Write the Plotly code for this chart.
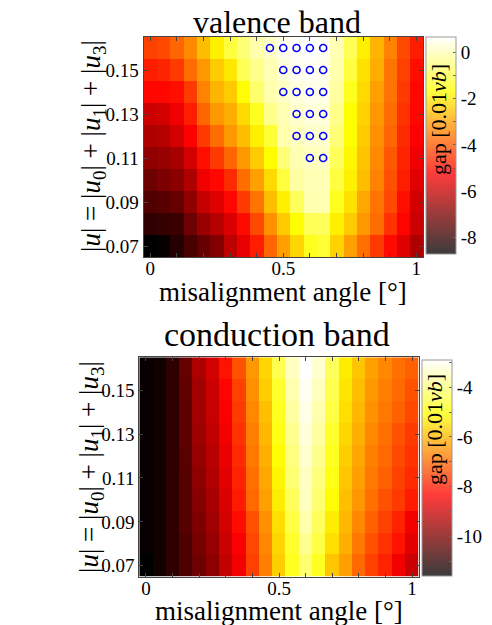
import plotly.graph_objects as go

SERIF = "Liberation Serif, Times New Roman, serif"

# misalignment angle (deg) and |u| grid
angle = [0.0, 0.05, 0.1, 0.15, 0.2, 0.25, 0.3, 0.35, 0.4, 0.45, 0.5,
         0.55, 0.6, 0.65, 0.7, 0.75, 0.8, 0.85, 0.9, 0.95, 1.0]
u_total = [0.07, 0.08, 0.09, 0.1, 0.11, 0.12, 0.13, 0.14, 0.15, 0.16]

# valence band gap [0.01 vb], rows = u_total (ascending)
gap_valence = [
    [-8.7, -8.6, -8.2, -7.7, -7.3, -6.9, -6.1, -5.5, -4.8, -3.8, -3.0, -2.25, -1.4, -1.2, -2.3, -3.0, -3.65, -4.4, -5.05, -5.6, -6.3],
    [-8.05, -7.95, -7.9, -7.2, -6.6, -6.2, -5.7, -5.05, -4.2, -3.2, -2.4, -1.7, -0.9, -0.85, -1.9, -2.4, -3.1, -3.7, -4.5, -5.15, -5.9],
    [-7.6, -7.5, -7.3, -6.7, -6.0, -5.6, -5.1, -4.4, -3.6, -2.6, -1.9, -0.85, -0.1, -0.05, -1.4, -2.1, -2.9, -3.6, -4.2, -5.0, -5.8],
    [-7.2, -7.0, -6.8, -6.3, -5.4, -5.1, -4.6, -3.7, -3.0, -2.2, -1.1, -0.2, -0.05, -0.03, -1.1, -1.9, -2.6, -3.4, -4.1, -4.8, -5.6],
    [-6.7, -6.6, -6.4, -5.8, -5.0, -4.4, -3.8, -3.1, -2.4, -1.7, -0.6, -0.05, 0.05, 0.1, -0.85, -1.8, -2.5, -3.3, -4.0, -4.7, -5.4],
    [-6.3, -6.2, -5.8, -5.2, -4.4, -3.7, -3.1, -2.6, -1.9, -1.2, -0.1, 0.05, 0.2, 0.2, -0.6, -1.7, -2.4, -3.2, -3.8, -4.6, -5.2],
    [-5.9, -5.8, -5.4, -4.8, -3.8, -3.1, -2.8, -2.2, -1.4, -0.4, -0.05, 0.2, 0.3, 0.3, -0.4, -1.7, -2.3, -3.1, -3.7, -4.5, -5.1],
    [-5.1, -5.1, -5.0, -4.4, -3.4, -2.7, -2.4, -1.7, -0.7, -0.1, 0.1, 0.35, 0.45, 0.4, -0.2, -1.4, -2.2, -3.0, -3.6, -4.4, -5.1],
    [-4.8, -4.7, -4.4, -3.7, -3.1, -2.4, -2.0, -0.9, -0.4, -0.05, 0.3, 0.5, 0.55, 0.45, -0.1, -1.1, -2.1, -2.8, -3.6, -4.3, -5.0],
    [-4.3, -4.2, -3.8, -3.3, -2.6, -1.9, -1.1, -0.6, -0.1, 0.15, 0.45, 0.6, 0.65, 0.5, -0.05, -0.9, -1.9, -2.7, -3.4, -4.2, -4.8],
]

# conduction band gap [0.01 vb]
gap_conduction = [
    [-11.6, -11.4, -11.0, -10.6, -10.2, -9.8, -9.1, -8.5, -7.5, -6.7, -5.7, -4.8, -4.1, -4.8, -5.8, -6.3, -7.0, -7.5, -7.9, -8.5, -9.0],
    [-11.5, -11.4, -11.0, -10.6, -10.1, -9.7, -9.0, -8.4, -7.4, -6.6, -5.6, -4.7, -3.85, -4.5, -5.5, -6.1, -6.8, -7.3, -7.7, -8.1, -8.7],
    [-11.5, -11.4, -11.0, -10.5, -10.0, -9.55, -8.9, -8.2, -7.3, -6.5, -5.5, -4.5, -3.6, -4.3, -5.3, -6.0, -6.6, -7.1, -7.5, -7.9, -8.5],
    [-11.5, -11.4, -11.0, -10.5, -9.9, -9.45, -8.8, -8.0, -7.0, -6.3, -5.3, -4.3, -3.45, -4.1, -5.1, -5.9, -6.4, -6.9, -7.3, -7.6, -8.0],
    [-11.5, -11.4, -11.0, -10.5, -9.8, -9.35, -8.7, -7.9, -6.9, -6.2, -5.2, -4.1, -3.4, -4.0, -4.9, -5.8, -6.3, -6.8, -7.1, -7.5, -7.8],
    [-11.5, -11.4, -11.0, -10.45, -9.7, -9.25, -8.6, -7.8, -6.8, -6.1, -5.1, -4.0, -3.3, -3.85, -4.8, -5.7, -6.2, -6.7, -7.0, -7.4, -7.7],
    [-11.5, -11.4, -11.0, -10.4, -9.6, -9.15, -8.5, -7.7, -6.7, -6.0, -4.9, -3.85, -3.2, -3.7, -4.7, -5.6, -6.1, -6.6, -6.9, -7.3, -7.6],
    [-11.5, -11.4, -11.0, -10.4, -9.55, -9.05, -8.4, -7.6, -6.6, -5.9, -4.8, -3.7, -3.1, -3.6, -4.5, -5.5, -6.0, -6.5, -6.8, -7.1, -7.4],
    [-11.5, -11.4, -11.0, -10.35, -9.55, -9.0, -8.3, -7.5, -6.5, -5.7, -4.7, -3.6, -3.0, -3.45, -4.4, -5.4, -5.9, -6.4, -6.7, -7.0, -7.3],
    [-11.5, -11.4, -11.0, -10.3, -9.4, -8.9, -8.1, -7.3, -6.4, -5.6, -4.4, -3.45, -2.9, -3.3, -4.3, -5.3, -5.8, -6.3, -6.6, -6.9, -7.1],
]

# cells with a positive valence gap (blue circles)
circle_angle = [0.45, 0.5, 0.55, 0.6, 0.65, 0.5, 0.55, 0.6, 0.65, 0.5, 0.55, 0.6, 0.65,
                0.55, 0.6, 0.65, 0.55, 0.6, 0.65, 0.6, 0.65]
circle_u = [0.16, 0.16, 0.16, 0.16, 0.16, 0.15, 0.15, 0.15, 0.15, 0.14, 0.14, 0.14, 0.14,
            0.13, 0.13, 0.13, 0.12, 0.12, 0.12, 0.11, 0.11]

x_ticks = [0, 0.1, 0.2, 0.3, 0.4, 0.5, 0.6, 0.7, 0.8, 0.9, 1.0]
x_ticktext = ['0', '', '', '', '', '0.5', '', '', '', '', '1']
y_ticks = [0.07, 0.09, 0.11, 0.13, 0.15]
y_ticktext = ['0.07', '0.09', '0.11', '0.13', '0.15']

valence_cb = [0, -1, -2, -3, -4, -5, -6, -7, -8]
conduction_cb = [-3, -4, -5, -6, -7, -8, -9, -10, -11]

# the page body has an 8px margin, so the figure is drawn that much smaller
PAGE_W, PAGE_H, OFF = 492, 625, 8
W, H = PAGE_W - OFF, PAGE_H - OFF

# matlab "hot"
hot = [[0.0, (0, 0, 0)], [0.375, (255, 0, 0)], [0.75, (255, 255, 0)], [1.0, (255, 255, 255)]]
hot_scale = [[s, 'rgb(%d,%d,%d)' % c] for s, c in hot]


def faded(c, a=0.77):
    return tuple(round(a * v + (1 - a) * 255) for v in c)


faded_scale = [[s, 'rgb(%d,%d,%d)' % faded(c)] for s, c in hot]


def px_x(p):
    # screen pixel -> paper fraction
    return (p - OFF) / W


def px_y(p):
    return 1 - (p - OFF) / H


fig = go.Figure()

panels = [
    dict(z=gap_valence, zmin=-8.7, zmax=0.65, xa='x', ya='y', cb_vals=valence_cb,
         cb_x=426, cb_top=37, cb_bot=254),
    dict(z=gap_conduction, zmin=-11.6, zmax=-2.9, xa='x2', ya='y2', cb_vals=conduction_cb,
         cb_x=422, cb_top=360, cb_bot=576),
]

for p in panels:
    fig.add_trace(go.Heatmap(x=angle, y=u_total, z=p['z'], zmin=p['zmin'], zmax=p['zmax'],
                             colorscale=hot_scale, showscale=False, xaxis=p['xa'], yaxis=p['ya'],
                             hoverinfo='skip'))
    ticktext = [str(v) if v % 2 == 0 else '' for v in p['cb_vals']]
    # lighter colour bar, as in the original figure
    fig.add_trace(go.Scatter(
        x=[None], y=[None], mode='markers', xaxis=p['xa'], yaxis=p['ya'], showlegend=False,
        marker=dict(color=[p['zmin']], cmin=p['zmin'], cmax=p['zmax'], colorscale=faded_scale,
                    showscale=True,
                    colorbar=dict(x=px_x(p['cb_x']), xanchor='left', xpad=0, ypad=0,
                                  y=px_y((p['cb_top'] + p['cb_bot']) / 2), yanchor='middle',
                                  len=p['cb_bot'] - p['cb_top'], lenmode='pixels',
                                  thickness=30, outlinewidth=1, outlinecolor='#999',
                                  tickvals=p['cb_vals'], ticktext=ticktext,
                                  ticks='inside', ticklen=3, tickcolor='#666',
                                  tickfont=dict(family=SERIF, size=19, color='black')))))

fig.add_trace(go.Scatter(x=circle_angle, y=circle_u, mode='markers', xaxis='x', yaxis='y',
                         showlegend=False, hoverinfo='skip',
                         marker=dict(symbol='circle-open', size=7, color='blue',
                                     line=dict(width=1.6, color='blue'))))

axis_common = dict(showline=True, linecolor='#444', linewidth=1, mirror='ticks',
                   ticks='inside', ticklen=4, tickcolor='#444', showgrid=False, zeroline=False,
                   tickfont=dict(family=SERIF, size=19, color='black'))

fig.update_layout(
    width=W, height=H, autosize=False,
    margin=dict(l=0, r=0, t=0, b=0),
    paper_bgcolor='white', plot_bgcolor='white',
    showlegend=False,
    font=dict(family=SERIF, color='black'),
    xaxis=dict(domain=[px_x(143.5), px_x(423)], range=[-0.025, 1.025], anchor='y',
               tickvals=x_ticks, ticktext=x_ticktext, ticklabelstandoff=-6, **axis_common),
    yaxis=dict(domain=[px_y(257), px_y(37)], range=[0.065, 0.165], anchor='x',
               tickvals=y_ticks, ticktext=y_ticktext, **axis_common),
    xaxis2=dict(domain=[px_x(139.3), px_x(418.7)], range=[-0.025, 1.025], anchor='y2',
                tickvals=x_ticks, ticktext=x_ticktext, ticklabelstandoff=-6, **axis_common),
    yaxis2=dict(domain=[px_y(576.7), px_y(357.3)], range=[0.065, 0.165], anchor='x2',
                tickvals=y_ticks, ticktext=y_ticktext, **axis_common),
)

y_title = ('|<i>u</i>| = |<i>u</i><sub>0</sub>| + |<i>u</i><sub>1</sub>| '
           '+ |<i>u</i><sub>3</sub>|')
cb_title = 'gap [0.01<i>vb</i>]'

notes = [
    ('valence band', 277, 22, 0, 32),
    ('conduction band', 277, 334, 0, 34),
    ('misalignment angle [°]', 283, 292, 0, 27),
    ('misalignment angle [°]', 279, 611, 0, 27),
    (y_title, 93, 146, -90, 27),
    (y_title, 91, 467, -90, 27),
    (cb_title, 438, 120, -90, 22),
    (cb_title, 434, 430, -90, 22),
]
for text, x, y, ang, size in notes:
    fig.add_annotation(text=text, x=px_x(x), y=px_y(y), xref='paper', yref='paper',
                       xanchor='center', yanchor='middle', showarrow=False, textangle=ang,
                       font=dict(family=SERIF, size=size, color='black'))

fig.write_html("out.html")
